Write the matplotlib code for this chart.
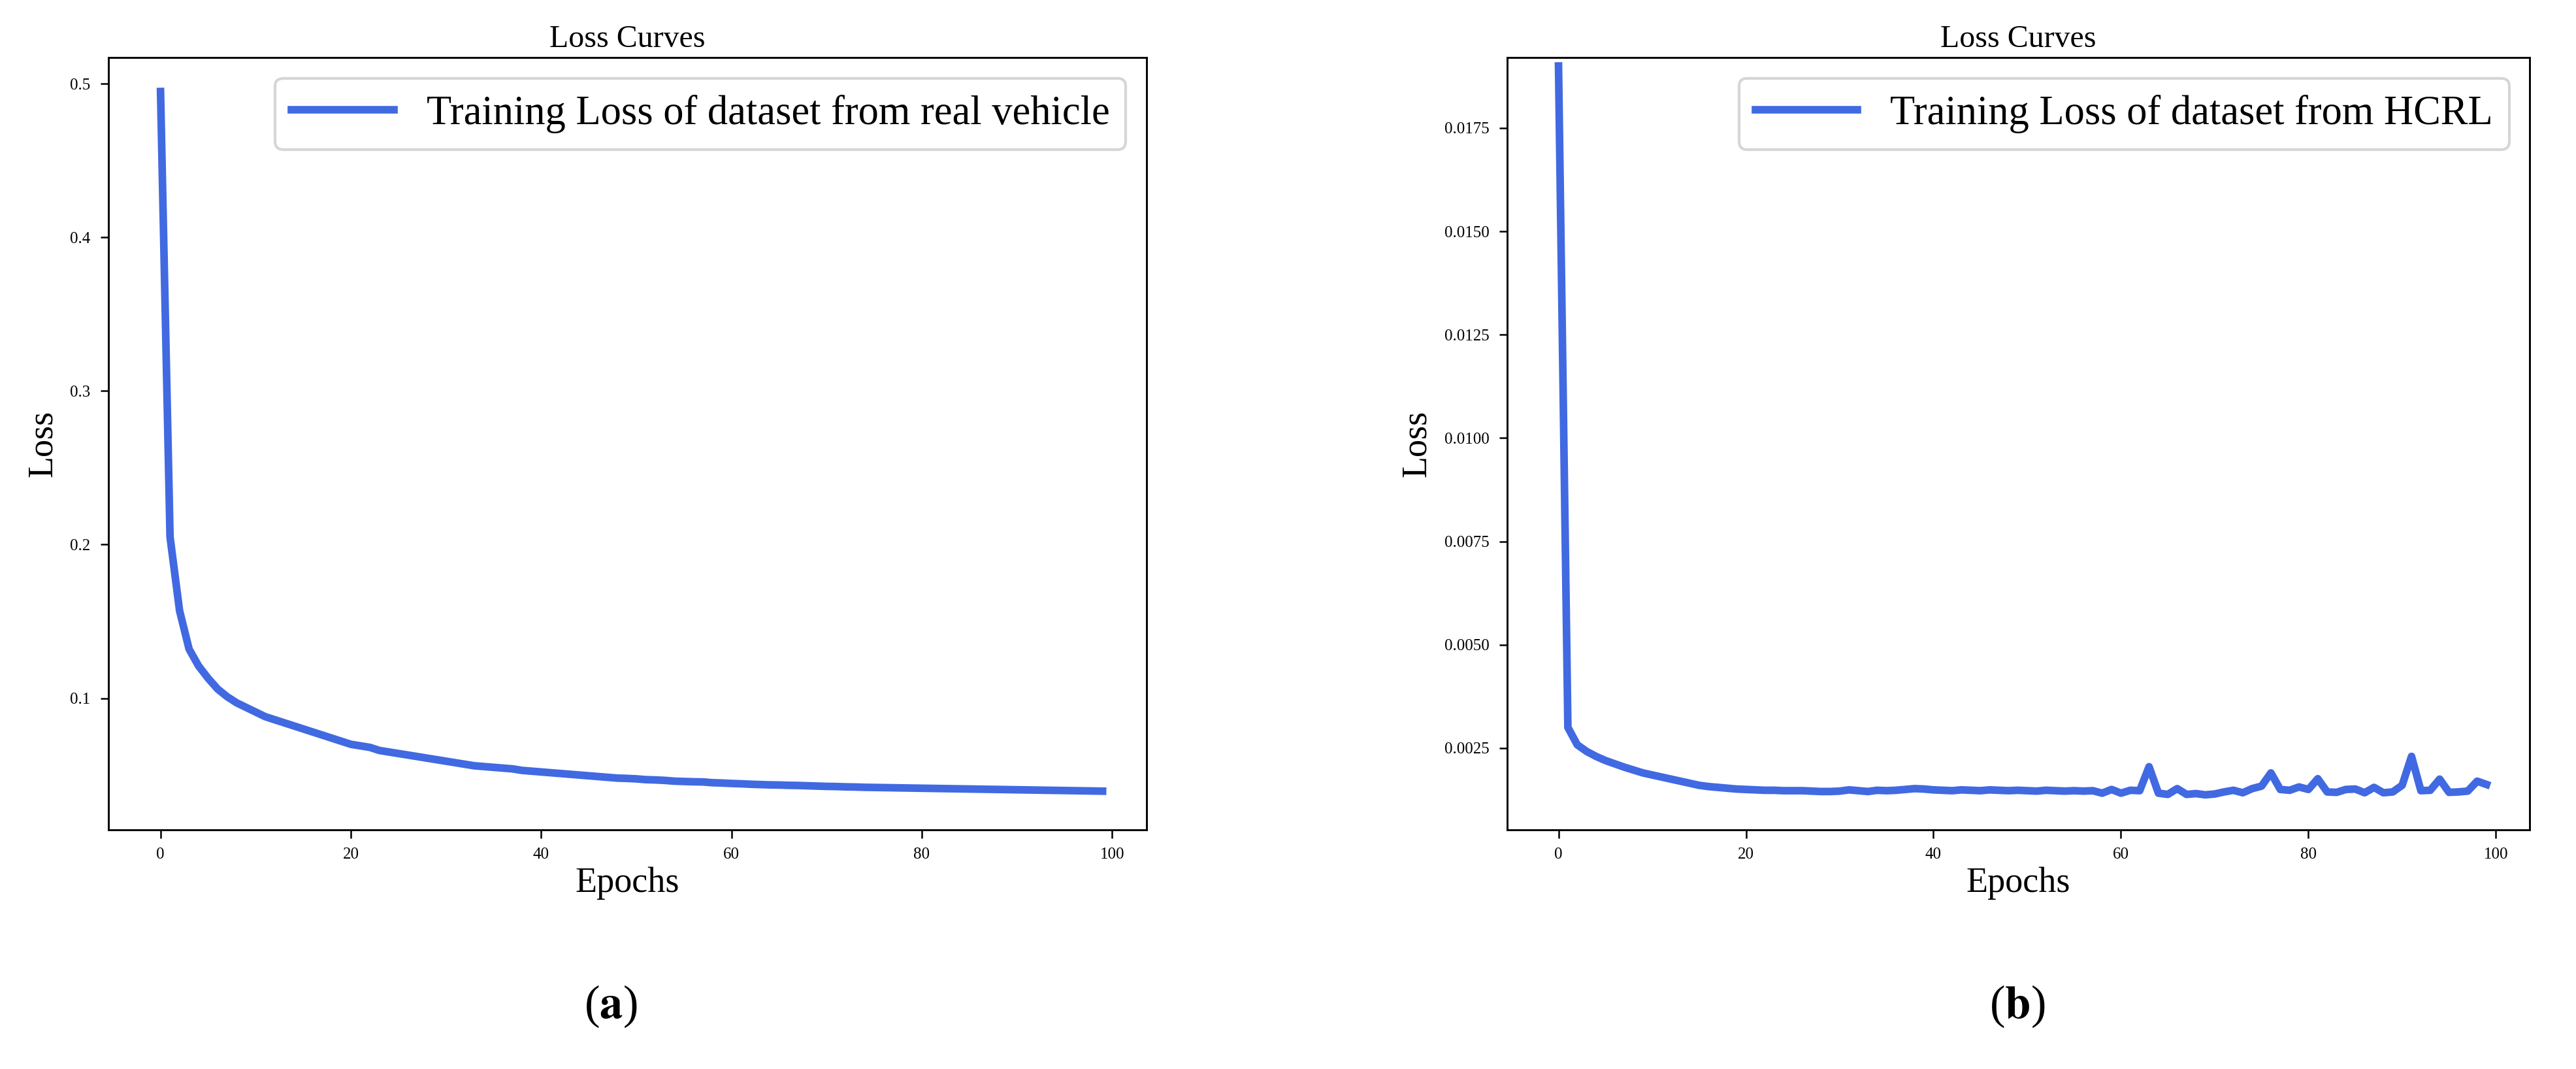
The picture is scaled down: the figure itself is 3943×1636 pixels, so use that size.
import matplotlib
matplotlib.use("Agg")
import matplotlib.pyplot as plt
import numpy as np

plt.rcParams['font.family'] = ['Liberation Serif', 'DejaVu Serif']
plt.rcParams['mathtext.fontset'] = 'stix'

epochs = list(range(100))
loss_real = [0.495, 0.205, 0.157, 0.132, 0.121, 0.113, 0.106, 0.101, 0.097, 0.094,
             0.091, 0.088, 0.086, 0.084, 0.082, 0.080, 0.078, 0.076, 0.074, 0.072,
             0.070, 0.069, 0.068, 0.066, 0.065, 0.064, 0.063, 0.062, 0.061, 0.060,
             0.059, 0.058, 0.057, 0.056, 0.0555, 0.055, 0.0545, 0.054, 0.053, 0.0525,
             0.052, 0.0515, 0.051, 0.0505, 0.050, 0.0495, 0.049, 0.0485, 0.048, 0.0478,
             0.0475, 0.047, 0.0468, 0.0465, 0.046, 0.0458, 0.0456, 0.0455, 0.045, 0.0448,
             0.0445, 0.0443, 0.044, 0.0438, 0.0436, 0.0435, 0.0433, 0.0432, 0.043, 0.0428,
             0.0426, 0.0425, 0.0423, 0.0422, 0.042, 0.0419, 0.0418, 0.0417, 0.0416, 0.0415,
             0.0414, 0.0413, 0.0412, 0.0411, 0.041, 0.0409, 0.0408, 0.0407, 0.0406, 0.0405,
             0.0404, 0.0403, 0.0402, 0.0401, 0.040, 0.0399, 0.0398, 0.0397, 0.0396, 0.0395]
loss_hcrl = [0.0190, 0.0030, 0.00258, 0.00242, 0.00230, 0.00220, 0.00212, 0.00204, 0.00197, 0.00190,
             0.00185, 0.00180, 0.00175, 0.00170, 0.00165, 0.00160, 0.00157, 0.00155, 0.00153, 0.00151,
             0.00150, 0.00149, 0.00148, 0.00148, 0.00147, 0.00147, 0.00147, 0.00146, 0.00145, 0.00145,
             0.00146, 0.00149, 0.00147, 0.00145, 0.00148, 0.00147, 0.00148, 0.00150, 0.00152, 0.00151,
             0.00149, 0.00148, 0.00147, 0.00149, 0.00148, 0.00147, 0.00149, 0.00148, 0.00147, 0.00148,
             0.00147, 0.00146, 0.00148, 0.00147, 0.00146, 0.00147, 0.00146, 0.00147, 0.00141, 0.00150,
             0.00141, 0.00148, 0.00147, 0.00205, 0.00141, 0.00138, 0.00152, 0.00138, 0.00140, 0.00137,
             0.00139, 0.00144, 0.00148, 0.00142, 0.00152, 0.00158, 0.00190, 0.00150, 0.00148, 0.00156,
             0.00150, 0.00176, 0.00144, 0.00143, 0.00150, 0.00151, 0.00142, 0.00155, 0.00142, 0.00144,
             0.00160, 0.00230, 0.00147, 0.00148, 0.00175, 0.00143, 0.00144, 0.00146, 0.00170, 0.00162]

color = '#4169E1'
fig = plt.figure(figsize=(3943/300, 1636/300), dpi=300)
ax1 = fig.add_axes([0.042, 0.224, 0.403, 0.722])
ax2 = fig.add_axes([0.585, 0.224, 0.397, 0.722])

for ax, data, lab in [(ax1, loss_real, 'Training Loss of dataset from real vehicle'),
                      (ax2, loss_hcrl, 'Training Loss of dataset from HCRL')]:
    ax.plot(epochs, data, color=color, linewidth=2.8, label=lab)
    ax.set_title('Loss Curves', fontsize=11.5, pad=4)
    ax.set_xlabel('Epochs', fontsize=13, labelpad=2)
    ax.set_ylabel('Loss', fontsize=13)
    ax.tick_params(labelsize=6, width=0.6, length=3)
    ax.set_xticks([0, 20, 40, 60, 80, 100])
    ax.legend(loc='upper right', fontsize=15, handlelength=2.5)
    for s in ax.spines.values():
        s.set_linewidth(0.7)

ax1.set_xlim(-5.5, 103.6)
ax1.set_ylim(0.0145, 0.517)
ax1.set_yticks([0.1, 0.2, 0.3, 0.4, 0.5])
ax2.set_xlim(-5.5, 103.6)
ax2.set_ylim(0.00053, 0.0192)
ax2.set_yticks([0.0025, 0.005, 0.0075, 0.01, 0.0125, 0.015, 0.0175])
ax2.yaxis.set_major_formatter(matplotlib.ticker.FormatStrFormatter('%.4f'))

fig.text(0.237, 0.048, r'($\mathbf{a}$)', ha='center', fontsize=17)
fig.text(0.783, 0.048, r'($\mathbf{b}$)', ha='center', fontsize=17)
fig.savefig('out.png', dpi=300)
